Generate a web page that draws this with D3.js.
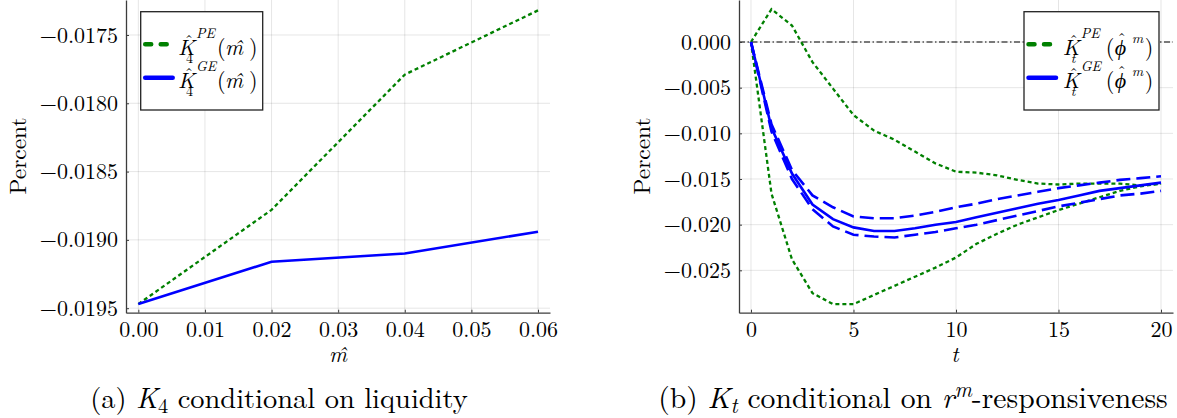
<!DOCTYPE html>
<html>
<head>
<meta charset="utf-8">
<script src="https://cdn.jsdelivr.net/npm/d3@7"></script>
<style>
body { margin: 0; background: #fff; }
svg text { fill: #000; }
.it { font-style: italic; }
</style>
</head>
<body>
<div id="figure-div"></div>
<script>
// panel (a): K4 against liquidity
var mValues = [0.00, 0.02, 0.04, 0.06];
var k4PE = [-0.01947, -0.01878, -0.01779, -0.01732];
var k4GE = [-0.01947, -0.01916, -0.01910, -0.01894];
var mTicks = [0, 0.01, 0.02, 0.03, 0.04, 0.05, 0.06];
var k4Ticks = [-0.0195, -0.0190, -0.0185, -0.0180, -0.0175];

// panel (b): Kt over the horizon
var horizon = [0, 1, 2, 3, 4, 5, 6, 7, 8, 9, 10, 11, 12, 13, 14, 15, 16, 17, 18, 19, 20];
var ktPEHigh = [0, 0.0036, 0.0018, -0.0022, -0.0051, -0.0080, -0.0097, -0.0107, -0.0120, -0.0133, -0.0142,
	-0.0143, -0.0146, -0.0151, -0.0155, -0.0156, -0.0155, -0.0155, -0.0155, -0.0157, -0.0155];
var ktPELow = [0, -0.0166, -0.0238, -0.0275, -0.0287, -0.0287, -0.0277, -0.0267, -0.0257, -0.0247, -0.0236,
	-0.0221, -0.0210, -0.0200, -0.0192, -0.0184, -0.0177, -0.0170, -0.0163, -0.0158, -0.0155];
var ktGE = [0, -0.0094, -0.0144, -0.0178, -0.0194, -0.0203, -0.0207, -0.0207, -0.0204, -0.0200, -0.0197,
	-0.0192, -0.0187, -0.0182, -0.0177, -0.0173, -0.0168, -0.0163, -0.0160, -0.0157, -0.0154];
var ktGEHigh = [0, -0.0090, -0.0140, -0.0168, -0.0181, -0.0191, -0.0193, -0.0193, -0.0190, -0.0186, -0.0181,
	-0.0177, -0.0172, -0.0168, -0.0164, -0.0160, -0.0157, -0.0154, -0.0151, -0.0149, -0.0147];
var ktGELow = [0, -0.0098, -0.0150, -0.0183, -0.0202, -0.0211, -0.0213, -0.0214, -0.0211, -0.0208, -0.0204,
	-0.0200, -0.0195, -0.0190, -0.0185, -0.0180, -0.0176, -0.0172, -0.0168, -0.0166, -0.0163];
var tTicks = [0, 5, 10, 15, 20];
var ktTicks = [-0.025, -0.020, -0.015, -0.010, -0.005, 0];

var w = 1177;
var h = 418;
var green = "#008000";
var blue = "#0000ff";
var axisColor = "#3c3c3c";

// pick the first serif face that is really installed
var ctx = document.createElement("canvas").getContext("2d");
function hasFont(name) {
	var sample = "Percent \u22120.0175 conditional Kmm";
	return ["monospace", "sans-serif", "serif"].some(function(base) {
		ctx.font = "40px " + base;
		var w0 = ctx.measureText(sample).width;
		ctx.font = "40px '" + name + "', " + base;
		return ctx.measureText(sample).width != w0;
	});
}
var candidates = ["Latin Modern Roman", "CMU Serif", "Liberation Serif", "DejaVu Serif", "Noto Serif",
	"Tinos", "Times New Roman", "TeX Gyre Termes", "Nimbus Roman", "FreeSerif"];
var face = candidates.filter(hasFont)[0];
var fontStack = (face ? "'" + face + "', " : "") + "serif";

// tick label size so that "-0.0175" is about as wide as in the figure
ctx.font = "22px " + fontStack;
var tickFs = Math.min(22, 22 * (82 / ctx.measureText("\u22120.0175").width + 1) / 2);

var svg = d3.select("#figure-div").append("svg")
	.attr("width", w)
	.attr("height", h)
	.style("font-family", fontStack);

function drawGrid(x, y, xTicks, yTicks) {
	var g = svg.append("g");
	g.selectAll("line.vgrid")
		.data(xTicks).enter().append("line")
		.attr("x1", function(d) { return x(d) }).attr("x2", function(d) { return x(d) })
		.attr("y1", y.range()[0]).attr("y2", y.range()[1])
		.attr("stroke", "#000").attr("stroke-opacity", 0.1);
	g.selectAll("line.hgrid")
		.data(yTicks).enter().append("line")
		.attr("x1", x.range()[0]).attr("x2", x.range()[1])
		.attr("y1", function(d) { return y(d) }).attr("y2", function(d) { return y(d) })
		.attr("stroke", "#000").attr("stroke-opacity", 0.1);
}

function drawAxes(x, y, xTicks, yTicks, xFmt, yFmt) {
	var xa = svg.append("g")
		.attr("transform", "translate(0," + y.range()[0] + ")")
		.call(d3.axisBottom(x).tickValues(xTicks).tickFormat(xFmt)
			.tickSizeInner(-3).tickSizeOuter(0).tickPadding(9));
	var ya = svg.append("g")
		.attr("transform", "translate(" + x.range()[0] + ",0)")
		.call(d3.axisLeft(y).tickValues(yTicks).tickFormat(yFmt)
			.tickSizeInner(-3).tickSizeOuter(0).tickPadding(8));
	[xa, ya].forEach(function(a) {
		a.attr("font-family", null).attr("font-size", null);
		a.select(".domain").attr("stroke", axisColor).attr("stroke-width", 1.3);
		a.selectAll(".tick line").attr("stroke", axisColor).attr("stroke-width", 1);
		a.selectAll("text").style("font-size", tickFs + "px").attr("fill", "#000");
	});
}

// add a circumflex tspan whose ink is centred on cx and sits just above inkBottom
function hatSpan(t, cx, inkBottom, size) {
	ctx.font = size + "px " + fontStack;
	var m = ctx.measureText("\u02C6");
	t.append("tspan")
		.attr("x", cx - m.width / 2)
		.attr("y", inkBottom - m.actualBoundingBoxDescent)
		.style("font-size", size + "px")
		.text("\u02C6");
}

// one legend label: K-hat with stacked sup/sub and an argument
function legendLabel(x, yb, sup, sub, arg) {
	var t = svg.append("text").style("font-size", "22px");
	t.append("tspan").attr("x", x).attr("y", yb).attr("class", "it").text("K");
	hatSpan(t, x + 11, yb - 17, 17);
	t.append("tspan").attr("x", x + 18).attr("y", yb - 17).attr("class", "it")
		.style("font-size", "14px").text(sup);
	t.append("tspan").attr("x", x + 8).attr("y", yb + 8).attr("class", sub == "4" ? null : "it")
		.style("font-size", "14px").text(sub);
	arg.forEach(function(p) {
		var s = t.append("tspan").attr("x", x + p[0]).attr("y", yb + (p[3] || 0)).text(p[1]);
		if (p[2]) s.attr("class", "it");
		if (p[3]) s.style("font-size", "14px");
	});
	return t;
}

function legendBox(bx, by, bw, bh) {
	svg.append("rect")
		.attr("x", bx).attr("y", by).attr("width", bw).attr("height", bh)
		.attr("fill", "#fff").attr("stroke", "#222").attr("stroke-width", 1.3);
	svg.append("line")
		.attr("x1", bx + 4.5).attr("x2", bx + 26)
		.attr("y1", 44.3).attr("y2", 44.3)
		.attr("stroke", green).attr("stroke-width", 4.5)
		.attr("stroke-linecap", "round").attr("stroke-dasharray", "6,9.5");
	svg.append("line")
		.attr("x1", bx + 4.5).attr("x2", bx + 32)
		.attr("y1", 77.7).attr("y2", 77.7)
		.attr("stroke", blue).attr("stroke-width", 4.5)
		.attr("stroke-linecap", "round");
}

function fitWidth(sel, target) {
	var fs = parseFloat(sel.style("font-size"));
	var bw = sel.node().getBBox().width;
	sel.style("font-size", (fs * target / bw) + "px");
}

// ---------- panel (a)
var xa = d3.scaleLinear().domain([-0.00185, 0.0618]).range([126, 550]);
var ya = d3.scaleLinear().domain([-0.019533, -0.017244]).range([312.7, 0]);
drawGrid(xa, ya, mTicks, k4Ticks);

var lineA = d3.line()
	.x(function(d, i) { return xa(mValues[i]) })
	.y(function(d) { return ya(d) });

svg.append("path").datum(k4PE)
	.attr("d", lineA).attr("fill", "none")
	.attr("stroke", green).attr("stroke-width", 2.3).attr("stroke-dasharray", "4,3");
svg.append("path").datum(k4GE)
	.attr("d", lineA).attr("fill", "none")
	.attr("stroke", blue).attr("stroke-width", 2.6);

drawAxes(xa, ya, mTicks, k4Ticks, d3.format(".2f"), d3.format(".4f"));

var pctA = svg.append("text")
	.attr("transform", "translate(26,156) rotate(-90)")
	.attr("text-anchor", "middle")
	.style("font-size", "22px")
	.text("Percent");
fitWidth(pctA, 77);
svg.append("text")
	.attr("x", 338).attr("y", 361.7)
	.attr("text-anchor", "middle").attr("class", "it")
	.style("font-size", "22px")
	.text("m\u0302");

legendBox(140.7, 11.7, 122, 98.3);
legendLabel(178, 55, "PE", "4", [[39, "("], [47, "m\u0302", true], [71, ")"]]);
legendLabel(178, 88.4, "GE", "4", [[39, "("], [47, "m\u0302", true], [71, ")"]]);

// ---------- panel (b)
var xb = d3.scaleLinear().domain([-0.585, 20.585]).range([739, 1173]);
var yb = d3.scaleLinear().domain([-0.02964, 0.0046]).range([312.7, 0]);
drawGrid(xb, yb, tTicks, ktTicks);

var lineB = d3.line()
	.x(function(d, i) { return xb(horizon[i]) })
	.y(function(d) { return yb(d) });

svg.append("line")
	.attr("x1", xb.range()[0]).attr("x2", xb.range()[1])
	.attr("y1", yb(0)).attr("y2", yb(0))
	.attr("stroke", "#000").attr("stroke-width", 1.2)
	.attr("stroke-dasharray", "6,2.5,1.5,2.5");

[ktPEHigh, ktPELow].forEach(function(s) {
	svg.append("path").datum(s)
		.attr("d", lineB).attr("fill", "none")
		.attr("stroke", green).attr("stroke-width", 2.3).attr("stroke-dasharray", "4,3");
});
[ktGEHigh, ktGELow].forEach(function(s) {
	svg.append("path").datum(s)
		.attr("d", lineB).attr("fill", "none")
		.attr("stroke", blue).attr("stroke-width", 2.6).attr("stroke-dasharray", "14,6");
});
svg.append("path").datum(ktGE)
	.attr("d", lineB).attr("fill", "none")
	.attr("stroke", blue).attr("stroke-width", 2.6);

drawAxes(xb, yb, tTicks, ktTicks, d3.format("d"), d3.format(".3f"));

var pctB = svg.append("text")
	.attr("transform", "translate(650,156) rotate(-90)")
	.attr("text-anchor", "middle")
	.style("font-size", "22px")
	.text("Percent");
fitWidth(pctB, 77);
svg.append("text")
	.attr("x", 955).attr("y", 361.7)
	.attr("text-anchor", "middle").attr("class", "it")
	.style("font-size", "22px")
	.text("t");

legendBox(1024, 11.7, 135, 98.3);
var phiArg = [[43, "("], [52, "\u03D5", true], [69, "m", true, -12], [82, ")"]];
[[55, "PE"], [88.4, "GE"]].forEach(function(r) {
	var t = legendLabel(1062.7, r[0], r[1], "t", phiArg);
	hatSpan(t, 1062.7 + 59, r[0] - 19, 17);
});

// ---------- captions
var capA = svg.append("text")
	.attr("x", 279).attr("y", 408)
	.attr("text-anchor", "middle")
	.style("font-size", "28px");
capA.append("tspan").text("(a) ");
capA.append("tspan").attr("class", "it").text("K");
capA.append("tspan").attr("dy", 5).style("font-size", "0.72em").text("4");
capA.append("tspan").attr("dy", -5).text(" conditional on liquidity");
fitWidth(capA, 378);

var capB = svg.append("text")
	.attr("x", 913).attr("y", 408)
	.attr("text-anchor", "middle")
	.style("font-size", "28px");
capB.append("tspan").text("(b) ");
capB.append("tspan").attr("class", "it").text("K");
capB.append("tspan").attr("class", "it").attr("dy", 5).style("font-size", "0.72em").text("t");
capB.append("tspan").attr("dy", -5).text(" conditional on ");
capB.append("tspan").attr("class", "it").text("r");
capB.append("tspan").attr("class", "it").attr("dy", -11).style("font-size", "0.72em").text("m");
capB.append("tspan").attr("dy", 11).text("-responsiveness");
fitWidth(capB, 510);
</script>
</body>
</html>
